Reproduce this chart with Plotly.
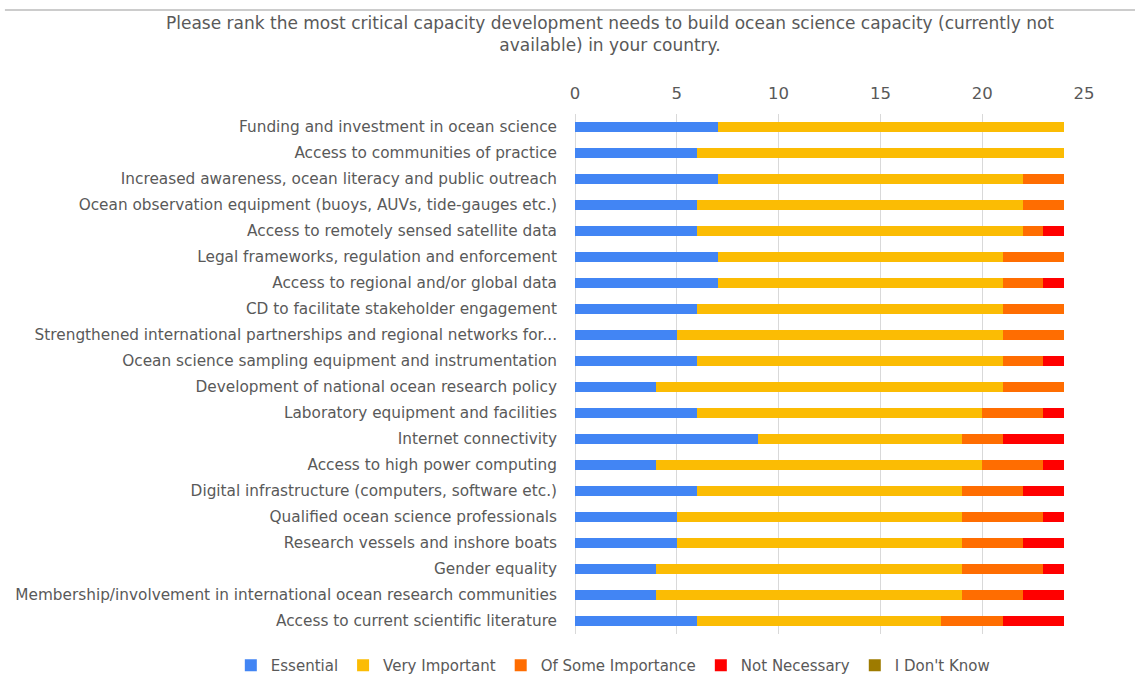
import plotly.graph_objects as go

# Survey question and response categories
title_text = ("Please rank the most critical capacity development needs to build ocean science capacity (currently not"
              "<br>available) in your country.")

needs = [
    "Funding and investment in ocean science",
    "Access to communities of practice",
    "Increased awareness, ocean literacy and public outreach",
    "Ocean observation equipment (buoys, AUVs, tide-gauges etc.)",
    "Access to remotely sensed satellite data",
    "Legal frameworks, regulation and enforcement",
    "Access to regional and/or global data",
    "CD to facilitate stakeholder engagement",
    "Strengthened international partnerships and regional networks for...",
    "Ocean science sampling equipment and instrumentation",
    "Development of national ocean research policy",
    "Laboratory equipment and facilities",
    "Internet connectivity",
    "Access to high power computing",
    "Digital infrastructure (computers, software etc.)",
    "Qualified ocean science professionals",
    "Research vessels and inshore boats",
    "Gender equality",
    "Membership/involvement in international ocean research communities",
    "Access to current scientific literature",
]

# Number of responses per rating
essential = [7, 6, 7, 6, 6, 7, 7, 6, 5, 6, 4, 6, 9, 4, 6, 5, 5, 4, 4, 6]
very_important = [17, 18, 15, 16, 16, 14, 14, 15, 16, 15, 17, 14, 10, 16, 13, 14, 14, 15, 15, 12]
some_importance = [0, 0, 2, 2, 1, 3, 2, 3, 3, 2, 3, 3, 2, 3, 3, 4, 3, 4, 3, 3]
not_necessary = [0, 0, 0, 0, 1, 0, 1, 0, 0, 1, 0, 1, 3, 1, 2, 1, 2, 1, 2, 3]
dont_know = [0] * 20

series = [
    ("Essential", essential, "#4285F4"),
    ("Very Important", very_important, "#FBBC04"),
    ("Of Some Importance", some_importance, "#FF6D01"),
    ("Not Necessary", not_necessary, "#FF0000"),
    ("I Don't Know", dont_know, "#9E7B00"),
]

text_color = "#595959"
font_family = "DejaVu Sans, Verdana, sans-serif"

# Plot area in pixels: x from 575 to 1084, y from 114 to 634
plot_w = 509.0
plot_h = 520.0

fig = go.Figure()
for name, values, color in series:
    fig.add_trace(go.Bar(
        y=needs,
        x=values,
        name=name,
        orientation="h",
        marker=dict(color=color, line=dict(width=0)),
        hoverinfo="x+y+name",
    ))

fig.update_layout(
    barmode="stack",
    bargap=0.62,
    width=1135,
    height=678,
    margin=dict(l=575, r=51, t=114, b=44, autoexpand=False),
    paper_bgcolor="white",
    plot_bgcolor="white",
    font=dict(family=font_family, size=15, color=text_color),
    xaxis=dict(
        side="top",
        range=[0, 25],
        dtick=5,
        tick0=0,
        showgrid=True,
        gridcolor="#d9d9d9",
        gridwidth=1,
        zeroline=True,
        zerolinecolor="#d9d9d9",
        zerolinewidth=1,
        showline=False,
        ticks="",
        ticklabelstandoff=11,
        tickfont=dict(size=16.5, color=text_color),
        automargin=False,
        fixedrange=True,
    ),
    yaxis=dict(
        autorange="reversed",
        showgrid=False,
        showline=False,
        ticks="",
        ticklabelstandoff=17,
        tickfont=dict(size=15.3, color=text_color),
        automargin=False,
        fixedrange=True,
    ),
    legend=dict(
        orientation="h",
        x=(241 - 575) / plot_w - 0.02,
        xanchor="left",
        y=-(649 - 634) / plot_h,
        yanchor="top",
        font=dict(size=15, color=text_color),
        itemwidth=30,
        traceorder="normal",
    ),
    annotations=[
        dict(
            text=title_text,
            xref="paper", yref="paper",
            x=(610 - 575) / plot_w, y=(634 - 33.5) / plot_h,
            xanchor="center", yanchor="middle",
            showarrow=False,
            align="center",
            font=dict(family=font_family, size=17, color=text_color),
        )
    ],
    shapes=[
        dict(
            type="line",
            xref="paper", yref="paper",
            x0=-1.12, x1=1.11,
            y0=(634 - 10) / plot_h, y1=(634 - 10) / plot_h,
            line=dict(color="#cccccc", width=2),
        )
    ],
)

fig.write_html("out.html")
